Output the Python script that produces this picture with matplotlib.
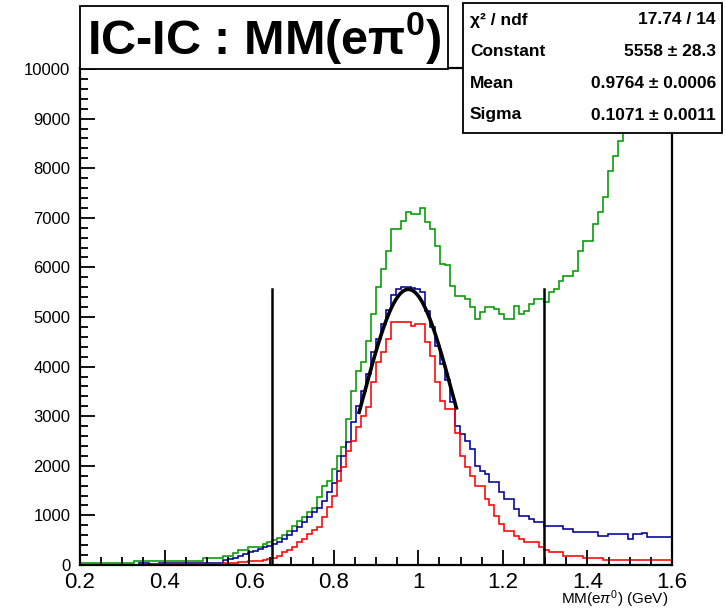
import numpy as np
import matplotlib
matplotlib.use("Agg")
import matplotlib.pyplot as plt
from matplotlib.patches import Rectangle
from matplotlib.ticker import MultipleLocator

plt.rcParams['font.family'] = ['Liberation Sans', 'DejaVu Sans']
plt.rcParams['mathtext.fontset'] = 'custom'
plt.rcParams['mathtext.rm'] = 'Liberation Sans'
plt.rcParams['mathtext.bf'] = 'Liberation Sans:bold'
plt.rcParams['mathtext.it'] = 'Liberation Sans:italic'

# histogram binning: 120 bins over 0.2 - 1.6 GeV
x_min, x_max, n_bins = 0.2, 1.6, 120

# counts per bin
green = ([50] * 11 + [80] * 14 + [140] * 4 + [190] * 2 +
         [240, 310, 310, 360, 360, 360, 420, 460, 500, 540,
          600, 690, 780, 880, 970, 1070, 1150, 1370, 1600, 1700,
          1930, 2200, 2380, 2940, 3500, 3920, 4100, 4520, 5060, 5600,
          5970, 6340, 6770, 6770, 6940, 7110, 7080, 7080, 7200, 6910,
          6770, 6440, 6070, 6040, 5630, 5430, 5430, 5360, 5200, 4960,
          5100, 5200, 5200, 5160, 5060, 4960, 4960, 5230, 5060, 5130,
          5260, 5360, 5360, 5300, 5500, 5560, 5730, 5830, 5830, 5930,
          6340, 6540, 6540, 6870, 7110, 7420, 7950, 8250, 8550, 8800,
          9150, 9500, 9850, 10200, 10600, 11000, 11300, 11700, 12000])

blue = ([10] * 12 + [50, 50, 20, 20] + [40] * 13 +
        [100, 120, 150, 190, 220, 260, 290, 320, 360, 390,
         420, 460, 520, 600, 680, 760, 860, 960, 1070, 1150,
         1300, 1470, 1650, 1900, 2200, 2480, 2880, 3210, 3500, 3850,
         4300, 4560, 4850, 5150, 5450, 5560, 5600, 5600, 5580, 5560,
         5500, 5130, 4800, 4420, 4050, 3720, 3280, 2810, 2650, 2510,
         2340, 2000, 1900, 1830, 1670, 1670, 1470, 1330, 1330, 1130,
         990, 990, 930, 860, 860, 790, 790, 790, 790, 730,
         730, 660, 660, 660, 660, 660, 590, 590, 620, 620,
         620, 620, 520, 620, 620, 650, 560, 560, 560, 560, 560])

red = ([5] * 15 + [30] + [20] * 13 +
       [40, 40, 40, 70, 70, 90, 90, 90, 100, 120,
        140, 180, 260, 300, 360, 460, 520, 620, 700, 760,
        960, 1170, 1400, 1700, 1970, 2300, 2500, 2780, 3000, 3180,
        3690, 4090, 4290, 4560, 4890, 4890, 4890, 4890, 4820, 4860,
        4860, 4490, 4220, 3690, 3310, 3140, 3140, 2670, 2200, 1970,
        1800, 1600, 1600, 1330, 1200, 990, 830, 690, 690, 590,
        520, 460, 460, 460, 360, 300, 260, 260, 260]
       + [190] * 4 + [140] * 4 + [110] * 14)

# gaussian fit result (stats box)
chi2, ndf = 17.74, 14
fit_const, fit_const_err = 5558, 28.3
fit_mean, fit_mean_err = 0.9764, 0.0006
fit_sigma, fit_sigma_err = 0.1071, 0.0011
fit_lo, fit_hi = 0.86, 1.09

x_ticks = [0.2, 0.4, 0.6, 0.8, 1.0, 1.2, 1.4, 1.6]
x_tick_labels = ['0.2', '0.4', '0.6', '0.8', '1', '1.2', '1.4', '1.6']
y_ticks = [0, 1000, 2000, 3000, 4000, 5000, 6000, 7000, 8000, 9000, 10000]

edges = np.linspace(x_min, x_max, n_bins + 1)

fig = plt.figure(figsize=(7.25, 6.1), dpi=100)
ax = fig.add_axes([80 / 725, 45 / 610, 592 / 725, 497 / 610])

ax.stairs(green, edges, color='#009a00', lw=1.15)
ax.stairs(blue, edges, color='#00009c', lw=1.15)
ax.stairs(red, edges, color='#ff0000', lw=1.15)

xf = np.linspace(fit_lo, fit_hi, 200)
ax.plot(xf, fit_const * np.exp(-0.5 * ((xf - fit_mean) / fit_sigma) ** 2),
        color='black', lw=2.6)

# cut lines at mean +- 3 sigma
for xc in (fit_mean - 3 * fit_sigma, fit_mean + 3 * fit_sigma):
    ax.plot([xc, xc], [0, fit_const], color='black', lw=1.8)

ax.set_xlim(x_min, x_max)
ax.set_ylim(0, 10020)
ax.set_xticks(x_ticks)
ax.set_xticklabels(x_tick_labels, fontsize=16)
ax.set_yticks(y_ticks)
ax.set_yticklabels([str(v) for v in y_ticks], fontsize=12)
ax.xaxis.set_minor_locator(MultipleLocator(0.05))
ax.yaxis.set_minor_locator(MultipleLocator(200))
ax.tick_params(which='both', direction='in', top=False, right=False, width=1.3)
ax.tick_params(which='major', length=11)
ax.tick_params(which='minor', length=6)
ax.tick_params(axis='x', pad=5)
ax.tick_params(axis='y', pad=7)
for s in ax.spines.values():
    s.set_linewidth(1.6)

fig.text(668 / 725, 1 - 599 / 610, r'MM(e$\pi^{0}$) (GeV)', fontsize=11,
         ha='right', va='center')

# title box
fig.add_artist(Rectangle((80 / 725, 1 - 69 / 610), 368 / 725, 63 / 610,
                         transform=fig.transFigure, facecolor='white',
                         edgecolor='black', lw=1.3, zorder=5))
fig.text(264 / 725, 1 - 38 / 610, r'IC-IC : MM(eπ$^{\mathbf{0}}$)', fontsize=35,
         fontweight='bold', ha='center', va='center', zorder=6)

# stats box
fig.add_artist(Rectangle((463 / 725, 1 - 133 / 610), 259 / 725, 130 / 610,
                         transform=fig.transFigure, facecolor='white',
                         edgecolor='black', lw=1.3, zorder=5))
rows = [
    ('χ² / ndf', f'{chi2:.2f} / {ndf}'),
    ('Constant', f'{fit_const} ± {fit_const_err}'),
    ('Mean', f'{fit_mean:.4f} ± {fit_mean_err:.4f}'),
    ('Sigma', f'{fit_sigma:.4f} ± {fit_sigma_err:.4f}'),
]
row_y = [20, 52, 84, 115]
for (lab, val), yy in zip(rows, row_y):
    fig.text(470 / 725, 1 - yy / 610, lab, fontsize=12.5, fontweight='bold',
             ha='left', va='center', zorder=6)
    fig.text(716 / 725, 1 - yy / 610, val, fontsize=12.5, fontweight='bold',
             ha='right', va='center', zorder=6)

fig.savefig('out.png', dpi=100)
